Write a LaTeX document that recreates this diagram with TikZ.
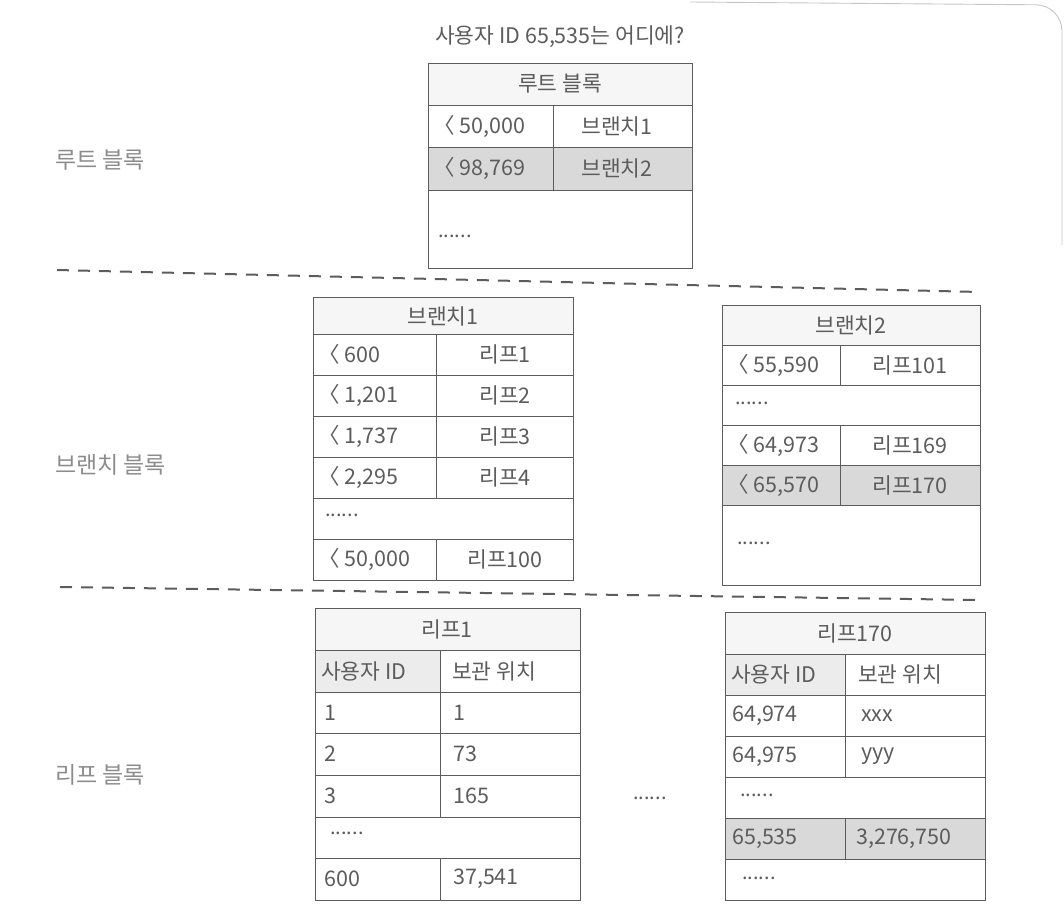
\documentclass[tikz,border=0pt]{standalone}
\usepackage{fontspec}
\setmainfont{Noto Sans CJK KR}
\definecolor{ink}{HTML}{5C5C5C}
\definecolor{paleink}{HTML}{8C8C8C}

\begin{document}
\begin{tikzpicture}[x=1pt,y=-1pt,
  txt/.style={text=ink,font=\fontsize{21.5}{24}\selectfont,inner sep=0pt},
  lft/.style={txt,anchor=west},
  side/.style={text=paleink,font=\fontsize{23}{26}\selectfont,inner sep=0pt,anchor=west},
  dots/.style={text=ink,font=\fontsize{20}{22}\selectfont,inner sep=0pt,anchor=west},
  frame/.style={draw=ink,line width=0.9pt},
  titlefill/.style={fill=gray!7},
  headfill/.style={fill=gray!15},
  hifill/.style={fill=gray!30},
  divider/.style={draw=ink,line width=2pt,dash pattern=on 12pt off 9pt}]
  \useasboundingbox (0,0) rectangle (1064,921);

  % page corner
  \draw[gray!45,line width=0.9pt,rounded corners=26pt] (690,2) -- (1062,5) -- (1062,245);

  % question
  \node[txt] (question) at (560,37) {사용자 ID 65,535는 어디에?};

  % level labels
  \node[side] (rootlabel) at (55,160) {루트 블록};
  \node[side] (branchlabel) at (55,465) {브랜치 블록};
  \node[side] (leaflabel) at (55,775) {리프 블록};

  % level dividers
  \draw[divider] (57,270) -- (980,292);
  \draw[divider] (60,587) -- (980,600);

  % root block
  \fill[titlefill] (428,63) rectangle (692,105);
  \fill[hifill] (428,147) rectangle (692,190);
  \draw[frame] (428,63) rectangle (692,268);
  \foreach \y in {105,147,190} \draw[frame] (428,\y) -- (692,\y);
  \draw[frame] (553,105) -- (553,190);
  \node[txt] (root) at (560,84) {루트 블록};
  \node[lft] (root-k1) at (433,126) {〈 50,000};
  \node[txt] (root-v1) at (617,126) {브랜치1};
  \node[lft] (root-k2) at (433,168) {〈 98,769};
  \node[txt] (root-v2) at (617,168) {브랜치2};
  \node[dots] (root-more) at (438,236) {......};

  % branch 1
  \fill[titlefill] (313,297) rectangle (573,334);
  \draw[frame] (313,297) rectangle (573,580);
  \foreach \y in {334,375,416,457,498,539} \draw[frame] (313,\y) -- (573,\y);
  \foreach \a/\b in {334/498,539/580} \draw[frame] (436,\a) -- (436,\b);
  \node[txt] (branch1) at (443,316) {브랜치1};
  \foreach \k/\v [count=\i] in {{600}/{리프1},{1,201}/{리프2},{1,737}/{리프3},{2,295}/{리프4}} {
    \node[lft] (b1-k\i) at (318,313.5+41*\i) {〈 \k};
    \node[txt] (b1-v\i) at (505,313.5+41*\i) {\v};
  }
  \node[dots] (b1-more) at (325,515) {......};
  \node[lft] (b1-k6) at (318,559.5) {〈 50,000};
  \node[txt] (b1-v6) at (505,559.5) {리프100};

  % branch 2
  \fill[titlefill] (722,305) rectangle (980,345);
  \fill[hifill] (722,465) rectangle (980,505);
  \draw[frame] (722,305) rectangle (980,585);
  \foreach \y in {345,385,425,465,505} \draw[frame] (722,\y) -- (980,\y);
  \foreach \a/\b in {345/385,425/505} \draw[frame] (840,\a) -- (840,\b);
  \node[txt] (branch2) at (851,325) {브랜치2};
  \node[lft] (b2-k1) at (727,365) {〈 55,590};
  \node[txt] (b2-v1) at (910,365) {리프101};
  \node[dots] (b2-more) at (735,403) {......};
  \node[lft] (b2-k3) at (727,445) {〈 64,973};
  \node[txt] (b2-v3) at (910,445) {리프169};
  \node[lft] (b2-k4) at (727,485) {〈 65,570};
  \node[txt] (b2-v4) at (910,485) {리프170};
  \node[dots] (b2-rest) at (737,543) {......};

  % leaf 1
  \fill[titlefill] (315,608) rectangle (580,650);
  \fill[headfill] (315,650) rectangle (440,692);
  \draw[frame] (315,608) rectangle (580,900);
  \foreach \y in {650,692,733,775,817,858} \draw[frame] (315,\y) -- (580,\y);
  \foreach \a/\b in {650/817,858/900} \draw[frame] (440,\a) -- (440,\b);
  \node[txt] (leaf1) at (447,629) {리프1};
  \node[lft] (l1-h1) at (321,671) {사용자 ID};
  \node[lft] (l1-h2) at (452,671) {보관 위치};
  \foreach \k/\v/\y [count=\i] in {1/1/712.5,2/73/754,3/165/796} {
    \node[lft] (l1-k\i) at (324,\y) {\k};
    \node[lft] (l1-v\i) at (453,\y) {\v};
  }
  \node[dots] (l1-more) at (330,833) {......};
  \node[lft] (l1-k5) at (324,879) {600};
  \node[lft] (l1-v5) at (453,879) {37,541};

  % gap between leaves
  \node[dots] (leaf-gap) at (633,798) {......};

  % leaf 170
  \fill[titlefill] (725,612) rectangle (985,654);
  \fill[headfill] (725,654) rectangle (845,695);
  \fill[hifill] (725,818) rectangle (985,859);
  \draw[frame] (725,612) rectangle (985,900);
  \foreach \y in {654,695,736,777,818,859} \draw[frame] (725,\y) -- (985,\y);
  \foreach \a/\b in {654/777,818/859} \draw[frame] (845,\a) -- (845,\b);
  \node[txt] (leaf170) at (855,633) {리프170};
  \node[lft] (l170-h1) at (731,674.5) {사용자 ID};
  \node[lft] (l170-h2) at (858,674.5) {보관 위치};
  \node[lft] (l170-k1) at (732,715.5) {64,974};
  \node[lft] (l170-v1) at (861,715.5) {xxx};
  \node[lft] (l170-k2) at (732,756.5) {64,975};
  \node[lft] (l170-v2) at (861,756.5) {yyy};
  \node[dots] (l170-more) at (740,795) {......};
  \node[lft] (l170-k4) at (732,838.5) {65,535};
  \node[lft] (l170-v4) at (856,838.5) {3,276,750};
  \node[dots] (l170-rest) at (742,878) {......};
\end{tikzpicture}
\end{document}
